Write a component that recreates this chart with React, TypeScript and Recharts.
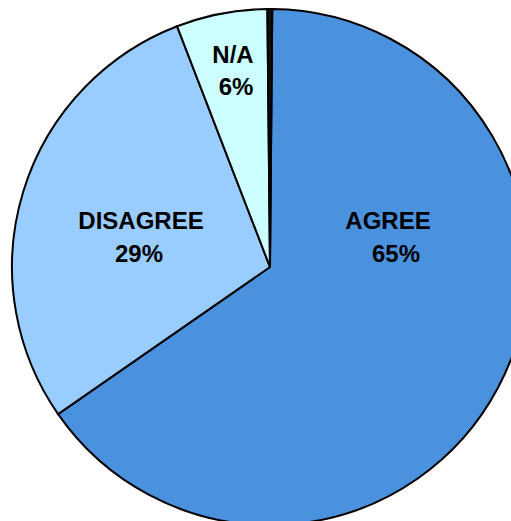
import React from "react";
import { PieChart, Pie, Cell } from "recharts";

const categories = ["AGREE", "DISAGREE", "N/A", ""];
const values = [65.2, 28.8, 5.7, 0.3];
const percentLabels = ["65%", "29%", "6%", ""];

const COLORS = ["#4A92DE", "#99CCFF", "#CCFFFF", "#111111"];

// label placement relative to pie centre: [name dx, name dy, pct dx, pct dy]
const LABEL_POS = [
  [118, -38, 126, -5],
  [-129, -38, -131, -5],
  [-37, -204, -34, -172],
];

const CX = 270;
const CY = 267;

const data = categories.map((name, i) => ({ name, value: values[i] }));

const renderLabel = (props: any) => {
  const { index } = props;
  const pos = LABEL_POS[index];
  if (!pos) return null;
  const style = {
    fontFamily: "'Liberation Sans', Arial, sans-serif",
    fontWeight: 700,
    fontSize: 24,
    fill: "#000",
  };
  return (
    <g>
      <text x={CX + pos[0]} y={CY + pos[1]} textAnchor="middle" style={style}>
        {categories[index]}
      </text>
      <text x={CX + pos[2]} y={CY + pos[3]} textAnchor="middle" style={style}>
        {percentLabels[index]}
      </text>
    </g>
  );
};

export default function App() {
  return (
    <div style={{ width: 511, height: 521, background: "#fff" }}>
      <style>{`body{margin:0}`}</style>
      <PieChart
        width={511}
        height={521}
        margin={{ top: 0, right: 0, bottom: 0, left: 0 }}
      >
        <Pie
          data={data}
          dataKey="value"
          nameKey="name"
          cx={CX}
          cy={CY}
          outerRadius={258}
          startAngle={89.5}
          endAngle={-270.5}
          stroke="#000"
          strokeWidth={2}
          label={renderLabel}
          labelLine={false}
          isAnimationActive={false}
        >
          {data.map((_, i) => (
            <Cell key={i} fill={COLORS[i]} />
          ))}
        </Pie>
      </PieChart>
    </div>
  );
}
